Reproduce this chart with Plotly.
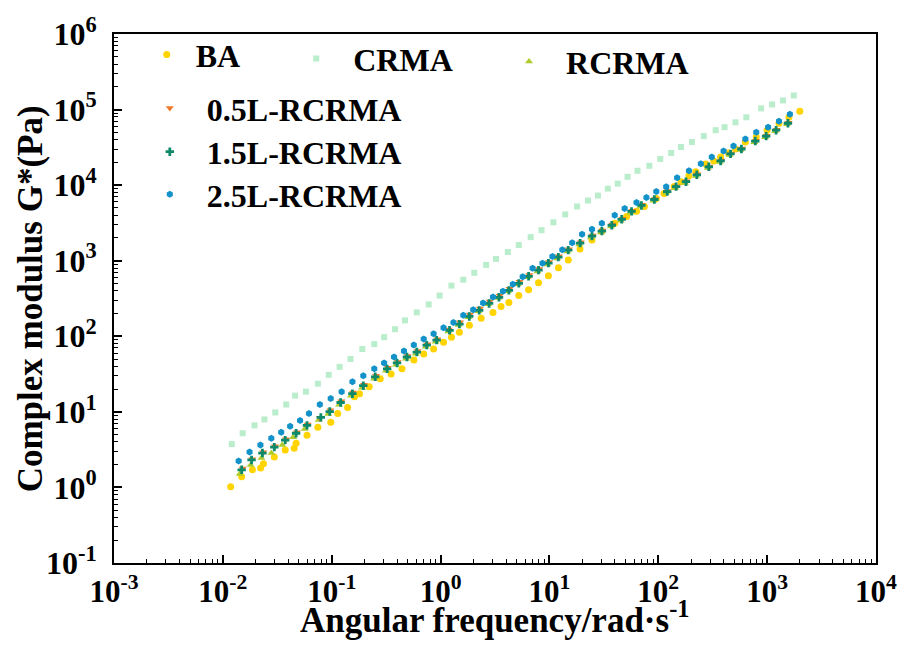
import plotly.graph_objects as go

# ---------------- data ----------------
ba_w = [0.0118, 0.0149, 0.0187, 0.0222, 0.0236, 0.0297, 0.0374, 0.0452, 0.0471, 0.0593, 0.0746, 0.098,
        0.1135, 0.140, 0.162, 0.180, 0.221, 0.279, 0.351, 0.442, 0.569, 0.700, 0.863, 1.065, 1.26,
        1.49, 1.84, 2.36, 3.03, 3.59, 4.24, 5.23, 6.44, 7.94, 9.79, 12.1, 14.9, 19.1, 24.6, 30.3,
        39.8, 51.2, 63.1, 74.6, 95.9, 113, 140, 162, 191, 221, 273, 323, 374, 442, 512, 631, 794,
        1000, 1285, 1585, 1995]
ba_g = [1.02, 1.38, 1.71, 1.81, 2.05, 2.52, 3.12, 3.31, 3.85, 4.91, 6.25, 7.26, 9.5, 11.4, 15.9,
        17.4, 21.5, 27.4, 31.8, 37.1, 48.7, 58.2, 67.8, 83.7, 97.3, 113, 140, 173, 207, 248, 280,
        346, 414, 512, 632, 805, 1024, 1429, 1875, 2460, 3130, 3860, 4500, 5230, 6650, 7740, 9560,
        11100, 13300, 15000, 19100, 20900, 23600, 26700, 30100, 37200, 43200, 53400, 65900, 79000,
        94700]

crma_w = [0.01207, 0.0152, 0.01954, 0.0241, 0.0303, 0.0382, 0.0461, 0.0580, 0.0746, 0.0939,
          0.1182, 0.1489, 0.191, 0.246, 0.303, 0.382, 0.471, 0.605, 0.778, 0.979, 1.259, 1.618,
          2.04, 2.62, 3.23, 4.15, 5.23, 6.72, 8.46, 10.87, 13.97, 17.97, 22.6, 27.9, 34.4, 42.4,
          52.2, 64.4, 82.8, 104.3, 131.3, 161.8, 203.7, 261.8, 336.8, 406.4, 511.7, 644.2, 881.5,
          1110, 1397, 1759]
crma_g = [3.74, 5.21, 6.63, 7.94, 9.82, 12.5, 16.4, 18.5, 23.6, 30.9, 39.4, 50.1, 67.8, 78.8, 97.3,
          124, 162.5, 207, 264, 346, 468, 560, 692, 881, 1057, 1303, 1611, 2050, 2535, 3225, 4100,
          5224, 6266, 7280, 8995, 10470, 12900, 15490, 18030, 22230, 26670, 31990, 37150, 44550,
          53330, 58480, 67920, 79070, 103700, 117000, 132000, 153600]

rcrma_w = [0.01428, 0.0180, 0.0226, 0.0279, 0.0351, 0.0442, 0.0565, 0.0760, 0.0930, 0.117, 0.150,
           0.190, 0.245, 0.315, 0.390, 0.482, 0.593, 0.731, 0.902, 1.18, 1.46, 1.80, 2.22, 2.74,
           3.38, 4.16, 5.13, 6.31, 7.78, 9.60, 11.8, 14.6, 18.8, 24.1, 29.7, 36.7, 45.2, 55.7, 68.6,
           90.2, 118, 143, 176, 222, 285, 367, 452, 568, 762, 960, 1185, 1520]
rcrma_g = [1.51, 1.98, 2.45, 2.85, 3.63, 4.62, 5.95, 7.80, 9.40, 12.4, 16.3, 20.9, 27.4, 35.0, 42.0,
           50.5, 58.8, 72.5, 84.5, 116, 141, 179, 215, 266, 320, 394, 488, 602, 722, 893, 1072,
           1325, 1638, 2025, 2360, 2830, 3390, 4320, 5180, 6220, 7920, 9200, 10700, 13200, 16900,
           20200, 25000, 29100, 37000, 43000, 51500, 63700]

l05_w = [0.0152, 0.0186, 0.0235, 0.0301, 0.0379, 0.0478, 0.0601, 0.0780, 0.0972, 0.1225, 0.157,
         0.198, 0.255, 0.328, 0.404, 0.498, 0.614, 0.757, 0.934, 1.19, 1.51, 1.86, 2.30, 2.83,
         3.49, 4.30, 5.31, 6.53, 8.05, 9.93, 12.2, 15.1, 19.4, 24.9, 30.7, 37.9, 46.8, 57.6, 71.0,
         93.3, 122, 148, 182, 229, 295, 379, 467, 588, 789, 993, 1225, 1575]
l05_g = [1.78, 2.36, 2.92, 3.52, 4.35, 5.38, 6.80, 8.30, 10.5, 13.8, 18.0, 22.9, 30.1, 38.3, 45.6,
         55.0, 64.0, 78.5, 91.6, 123, 153, 194, 233, 288, 345, 425, 525, 648, 776, 958, 1150, 1420,
         1750, 2160, 2520, 3010, 3600, 4580, 5490, 6580, 8350, 9700, 11300, 13900, 17700, 21200,
         26200, 30500, 38700, 45000, 53900, 66700]

l15_w = [0.01489, 0.01835, 0.0231, 0.0297, 0.0374, 0.0471, 0.0593, 0.0794, 0.0959, 0.1208, 0.155,
         0.195, 0.251, 0.323, 0.398, 0.491, 0.605, 0.746, 0.920, 1.208, 1.489, 1.835, 2.263, 2.79,
         3.44, 4.24, 5.23, 6.44, 7.94, 9.79, 12.07, 14.89, 19.14, 24.6, 30.3, 37.4, 46.1, 56.8,
         70.0, 92.0, 120.8, 145.8, 179.7, 226, 291, 374, 461, 580, 778, 979, 1208, 1552]
l15_g = [1.71, 2.31, 2.85, 3.41, 4.22, 5.21, 6.63, 8.45, 10.1, 13.3, 17.4, 22.2, 29.1, 37.1, 44.4,
         53.2, 61.9, 76.4, 88.9, 120, 145, 183, 220, 272, 328, 405, 502, 622, 750, 928, 1115, 1380,
         1710, 2113, 2460, 2946, 3530, 4500, 5390, 6460, 8220, 9550, 11100, 13700, 17500, 20900,
         25900, 30100, 38300, 44500, 53300, 65900]

l25_w = [0.01397, 0.01759, 0.02214, 0.02787, 0.03436, 0.04150, 0.0512, 0.0618, 0.0778, 0.0979,
         0.1233, 0.155, 0.195, 0.246, 0.303, 0.374, 0.461, 0.568, 0.700, 0.863, 1.065, 1.313,
         1.618, 1.995, 2.46, 3.03, 3.74, 4.61, 5.68, 7.00, 8.63, 10.65, 13.13, 16.18, 19.95, 24.6,
         30.3, 39.8, 49.1, 63.1, 77.8, 95.9, 118.2, 148.9, 191.4, 246, 310, 398, 491, 631, 794,
         1021, 1285, 1618]
l25_g = [2.24, 2.94, 3.63, 4.48, 5.37, 6.44, 7.71, 9.53, 12.5, 15.0, 18.5, 25.0, 30.0, 37.1, 44.4,
         53.2, 63.8, 76.4, 92.0, 108, 130, 152, 190, 224, 275, 330, 395, 488, 615, 795, 925, 1140,
         1400, 1725, 2244, 2612, 3126, 3981, 4920, 5900, 6860, 8220, 9550, 12530, 15490, 19140,
         23640, 28310, 32960, 40640, 50240, 58450, 69990, 86500]

series_names = ["BA", "CRMA", "RCRMA", "0.5L-RCRMA", "1.5L-RCRMA", "2.5L-RCRMA"]

x_tickvals = [1e-3, 1e-2, 1e-1, 1, 10, 100, 1000, 10000]
x_ticktext = ["10<sup>-3</sup>", "10<sup>-2</sup>", "10<sup>-1</sup>", "10<sup>0</sup>",
              "10<sup>1</sup>", "10<sup>2</sup>", "10<sup>3</sup>", "10<sup>4</sup>"]
y_tickvals = [1e-1, 1, 10, 100, 1000, 1e4, 1e5, 1e6]
y_ticktext = ["10<sup>-1</sup>", "10<sup>0</sup>", "10<sup>1</sup>", "10<sup>2</sup>",
              "10<sup>3</sup>", "10<sup>4</sup>", "10<sup>5</sup>", "10<sup>6</sup>"]
x_title = "Angular frequency/rad·s<sup>-1</sup>"
y_title = "Complex modulus G*(Pa)"

# ---------------- styling ----------------
FONT = "Liberation Serif"
styles = [
    dict(symbol="circle", color="#FFD400", size=7),
    dict(symbol="square", color="#B9EDCB", size=6),
    dict(symbol="triangle-up", color="#AECB2C", size=7),
    dict(symbol="triangle-down", color="#EE7B2C", size=7),
    dict(symbol="cross", color="#0E8A6B", size=7),
    dict(symbol="hexagon", color="#1292C8", size=7),
]
data = [(ba_w, ba_g), (crma_w, crma_g), (rcrma_w, rcrma_g),
        (l05_w, l05_g), (l15_w, l15_g), (l25_w, l25_g)]
legend_ids = ["legend", "legend2", "legend3", "legend4", "legend5", "legend6"]

fig = go.Figure()
for (w, g), name, st, lid in zip(data, series_names, styles, legend_ids):
    fig.add_trace(go.Scatter(
        x=w, y=g, mode="markers", name=name, legend=lid,
        marker=dict(symbol=st["symbol"], color=st["color"], size=st["size"],
                    line=dict(width=0)),
    ))

W, H = 909, 655
ML, MR, MT, MB = 114, 25, 29, 92
PW, PH = W - ML - MR, H - MT - MB


def px2paper(px, py):
    return (px - ML) / PW, (H - MB - py) / PH


legend_font = dict(family=FONT, size=32, color="black", weight="bold")
# marker-centre pixel positions of legend entries
leg_pos = [(162, 50, 48), (313, 54, 64), (528, 57, 64),
           (165, 104, 64), (165, 148, 64), (165, 191, 64)]
legends = {}
for lid, (mx, my, iw) in zip(legend_ids, leg_pos):
    lx, ly = px2paper(mx - iw / 2, my)
    legends[lid] = dict(x=lx, y=ly, xanchor="left", yanchor="middle",
                        font=legend_font, bgcolor="rgba(0,0,0,0)",
                        itemwidth=iw, borderwidth=0, itemsizing="trace")

axis_common = dict(
    type="log", showline=True, linecolor="black", linewidth=2, mirror=True,
    ticks="inside", ticklen=8, tickwidth=1.5, tickcolor="black",
    showgrid=False, zeroline=False,
)
tick_font = dict(family=FONT, size=32, color="black", weight="bold")
xtick_font = dict(family=FONT, size=31, color="black", weight="bold")
minor_vals = [m * 10.0 ** k for k in range(-3, 6) for m in range(2, 10)]
title_font = dict(family=FONT, size=35, color="black", weight="bold")

fig.update_layout(
    width=W, height=H,
    margin=dict(l=ML, r=MR, t=MT, b=MB),
    plot_bgcolor="white", paper_bgcolor="white",
    xaxis=dict(axis_common, range=[-3, 4], tickmode="array", tickvals=x_tickvals,
               ticktext=x_ticktext, tickfont=xtick_font,
               minor=dict(ticks="inside", ticklen=4, tickwidth=1, tickcolor="black",
                          tickvals=minor_vals, showgrid=False)),
    yaxis=dict(axis_common, range=[-1, 6], tickmode="array", tickvals=y_tickvals,
               ticktext=y_ticktext, ticklabelstandoff=9, tickfont=tick_font,
               minor=dict(ticks="inside", ticklen=4, tickwidth=1, tickcolor="black",
                          tickvals=minor_vals, showgrid=False)),
    showlegend=True,
    annotations=[
        dict(text=x_title, xref="paper", yref="paper", x=0.5, y=(H - MB - 618) / PH,
             xanchor="center", yanchor="middle", showarrow=False, font=title_font),
        dict(text=y_title, xref="paper", yref="paper", x=(30 - ML) / PW, y=0.5,
             xanchor="center", yanchor="middle", showarrow=False, textangle=-90,
             font=title_font),
    ],
    **legends,
)

fig.write_html("out.html")
